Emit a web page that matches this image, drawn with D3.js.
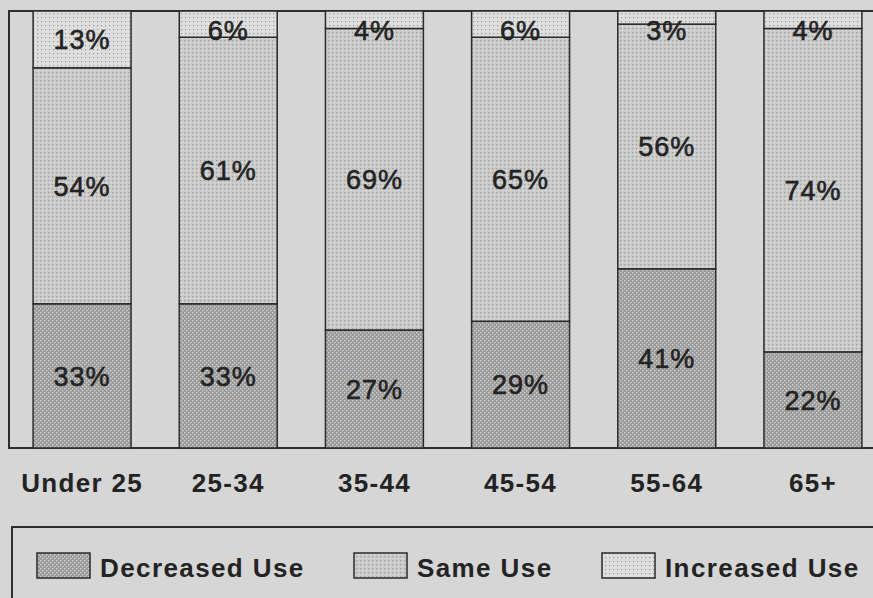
<!DOCTYPE html>
<html>
<head>
<meta charset="utf-8">
<script src="https://cdn.jsdelivr.net/npm/d3@7"></script>
<style>
  html, body { margin: 0; padding: 0; background: #d6d6d6; }
  svg { display: block; }
</style>
</head>
<body>
<svg id="chart" width="873" height="598"></svg>
<script>
// Age groups along the bottom
const categories = ["Under 25", "25-34", "35-44", "45-54", "55-64", "65+"];
// Share of respondents (%) per age group, stacked bottom to top
const decreasedUse = [33, 33, 27, 29, 41, 22];
const sameUse      = [54, 61, 69, 65, 56, 74];
const increasedUse = [13, 6, 4, 6, 3, 4];
const seriesNames  = ["Decreased Use", "Same Use", "Increased Use"];
const seriesKeys   = ["decreased", "same", "increased"];

const rows = categories.map((c, i) => ({
  category: c,
  decreased: decreasedUse[i],
  same: sameUse[i],
  increased: increasedUse[i]
}));

const svg = d3.select("#chart");
const ink = "#232323";

// Stipple fills for the three series
const defs = svg.append("defs");
function dotPattern(id, base, dots) {
  const p = defs.append("pattern")
    .attr("id", id).attr("patternUnits", "userSpaceOnUse")
    .attr("width", 4).attr("height", 4);
  p.append("rect").attr("width", 4).attr("height", 4).attr("fill", base);
  dots.forEach(d => p.append("rect")
    .attr("x", d[0]).attr("y", d[1]).attr("width", d[2]).attr("height", d[2])
    .attr("fill", d[3]));
}
dotPattern("pat-decreased", "#9a9a9a", [[0, 0, 1.4, "#d2d2d2"], [2, 2, 1.4, "#d2d2d2"]]);
dotPattern("pat-same", "#c9c9c9", [[0, 0, 1.2, "#9e9e9e"], [2, 2, 1.2, "#e4e4e4"]]);
dotPattern("pat-increased", "#dedede", [[1, 1, 1.2, "#9a9a9a"]]);

const fills = {
  decreased: "url(#pat-decreased)",
  same: "url(#pat-same)",
  increased: "url(#pat-increased)"
};

// Plot area
const plotLeft = 9, plotRight = 886, plotTop = 11, plotBottom = 448;

const x = d3.scaleBand()
  .domain(categories)
  .range([plotLeft, plotRight])
  .paddingInner(0.33)
  .paddingOuter(0.165);

const y = d3.scaleLinear()
  .domain([0, 100])
  .range([plotBottom, plotTop]);

const stack = d3.stack().keys(seriesKeys);
const layers = stack(rows);

// Frame
svg.append("rect")
  .attr("x", plotLeft).attr("y", plotTop)
  .attr("width", plotRight - plotLeft).attr("height", plotBottom - plotTop)
  .attr("fill", "none").attr("stroke", "#2e2e2e").attr("stroke-width", 2);

// Stacked bars
const layerG = svg.append("g").selectAll("g")
  .data(layers).join("g")
  .attr("fill", d => fills[d.key]);

layerG.selectAll("rect")
  .data(d => d)
  .join("rect")
  .attr("x", d => x(d.data.category))
  .attr("y", d => y(d[1]))
  .attr("width", x.bandwidth())
  .attr("height", d => y(d[0]) - y(d[1]))
  .attr("stroke", "#2a2a2a")
  .attr("stroke-width", 1.5);

// Value labels inside each segment
const labelG = svg.append("g");
layers.forEach(layer => {
  layer.forEach(d => {
    const mid = (y(d[0]) + y(d[1])) / 2;
    const cy = Math.max(mid, 30);
    labelG.append("text")
      .attr("x", x(d.data.category) + x.bandwidth() / 2)
      .attr("y", cy)
      .attr("dy", "0.36em")
      .attr("text-anchor", "middle")
      .attr("font-family", "'Liberation Sans', Arial, sans-serif")
      .attr("font-size", 27)
      .attr("letter-spacing", 1)
      .attr("fill", ink)
      .attr("stroke", ink).attr("stroke-width", 0.6)
      .text((d[1] - d[0]) + "%");
  });
});

// Category axis
const xAxis = svg.append("g")
  .attr("transform", `translate(0,${plotBottom})`)
  .call(d3.axisBottom(x).tickSize(0).tickPadding(26));
xAxis.select(".domain").remove();
xAxis.selectAll("text")
  .attr("font-family", "'Liberation Sans', Arial, sans-serif")
  .attr("font-size", 26)
  .attr("font-weight", "bold")
  .attr("letter-spacing", 1.3)
  .attr("fill", ink);

// Legend
const legend = svg.append("g");
legend.append("rect")
  .attr("x", 12).attr("y", 527)
  .attr("width", 880).attr("height", 100)
  .attr("fill", "none").attr("stroke", "#2e2e2e").attr("stroke-width", 2);

const legendX = [37, 354, 602];
seriesKeys.forEach((k, i) => {
  legend.append("rect")
    .attr("x", legendX[i]).attr("y", 553)
    .attr("width", 53).attr("height", 25)
    .attr("fill", fills[k])
    .attr("stroke", "#2a2a2a").attr("stroke-width", 1.5);
  legend.append("text")
    .attr("x", legendX[i] + 63).attr("y", 577)
    .attr("font-family", "'Liberation Sans', Arial, sans-serif")
    .attr("font-size", 26)
    .attr("font-weight", "bold")
    .attr("letter-spacing", 1.4)
    .attr("fill", ink)
    .text(seriesNames[i]);
});
</script>
</body>
</html>
